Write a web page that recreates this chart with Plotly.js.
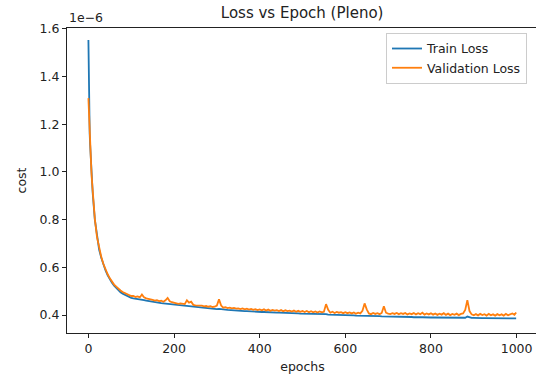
<!DOCTYPE html>
<html>
<head>
<meta charset="utf-8">
<script src="https://cdn.plot.ly/plotly-3.0.1.min.js"></script>
<style>
html,body{margin:0;padding:0;overflow:hidden;background:#fff;}
#chart{width:540px;height:377px;}
</style>
</head>
<body>
<div id="chart"></div>
<script>
// epochs
const epochs = [
  0,1,2,3,4,5,6,7,8,9,10,
  15,20,25,30,35,40,45,50,55,60,65,70,75,80,85,90,95,100,
  105,110,115,120,125,130,135,140,145,150,
  155,160,165,170,175,180,185,190,195,200,
  205,210,215,220,225,230,235,240,245,250,
  255,260,265,270,275,280,285,290,295,300,
  305,310,315,320,325,330,335,340,345,350,
  355,360,365,370,375,380,385,390,395,400,
  405,410,415,420,425,430,435,440,445,450,
  455,460,465,470,475,480,485,490,495,500,
  505,510,515,520,525,530,535,540,545,550,
  555,560,565,570,575,580,585,590,595,600,
  605,610,615,620,625,630,635,640,645,650,
  655,660,665,670,675,680,685,690,695,700,
  705,710,715,720,725,730,735,740,745,750,
  755,760,765,770,775,780,785,790,795,800,
  805,810,815,820,825,830,835,840,845,850,
  855,860,865,870,875,880,885,890,895,900,
  905,910,915,920,925,930,935,940,945,950,
  955,960,965,970,975,980,985,990,995,999
];
// train loss, in units of 1e-6
const trainLoss = [
  1.553,1.26,1.21,1.16,1.115,1.075,1.035,1.0,0.968,0.94,0.912,
  0.80,0.725,0.675,0.64,0.61,0.587,0.567,0.549,0.535,0.523,0.513,0.504,0.496,0.49,0.485,0.48,0.476,0.472,
  0.470,0.469,0.467,0.466,0.464,0.463,0.461,0.459,0.457,0.455,
  0.454,0.453,0.452,0.450,0.449,0.448,0.447,0.446,0.444,0.442,
  0.441,0.440,0.440,0.439,0.437,0.436,0.436,0.435,0.433,0.432,
  0.432,0.431,0.430,0.430,0.429,0.428,0.427,0.427,0.426,0.425,
  0.426,0.424,0.423,0.423,0.422,0.421,0.421,0.420,0.420,0.419,
  0.418,0.418,0.417,0.417,0.416,0.416,0.415,0.415,0.414,0.414,
  0.413,0.413,0.412,0.412,0.412,0.411,0.411,0.410,0.410,0.410,
  0.409,0.409,0.409,0.408,0.408,0.407,0.407,0.407,0.406,0.406,
  0.406,0.405,0.405,0.405,0.404,0.404,0.404,0.403,0.404,0.403,
  0.404,0.402,0.402,0.402,0.401,0.401,0.401,0.400,0.400,0.400,
  0.400,0.399,0.399,0.399,0.398,0.398,0.398,0.398,0.399,0.398,
  0.397,0.397,0.397,0.396,0.396,0.396,0.395,0.395,0.395,0.394,
  0.394,0.394,0.394,0.393,0.393,0.393,0.393,0.392,0.392,0.392,
  0.392,0.391,0.392,0.391,0.391,0.391,0.390,0.391,0.390,0.390,
  0.390,0.390,0.389,0.390,0.389,0.389,0.389,0.389,0.388,0.389,
  0.388,0.389,0.388,0.388,0.388,0.389,0.394,0.390,0.388,0.388,
  0.387,0.388,0.387,0.387,0.387,0.387,0.386,0.387,0.387,0.386,
  0.386,0.386,0.387,0.386,0.386,0.386,0.385,0.386,0.386,0.386
];
// validation loss, in units of 1e-6
const valLoss = [
  1.309,1.25,1.20,1.155,1.112,1.073,1.035,1.0,0.97,0.942,0.915,
  0.803,0.728,0.679,0.644,0.614,0.591,0.571,0.554,0.540,0.528,0.519,0.510,0.503,0.497,0.492,0.488,0.484,0.480,
  0.480,0.476,0.478,0.474,0.486,0.475,0.470,0.469,0.465,0.464,
  0.461,0.463,0.459,0.460,0.456,0.462,0.472,0.458,0.454,0.452,
  0.450,0.447,0.449,0.446,0.446,0.462,0.452,0.456,0.443,0.441,
  0.441,0.438,0.440,0.437,0.438,0.435,0.437,0.434,0.435,0.440,
  0.466,0.440,0.431,0.433,0.429,0.431,0.428,0.430,0.427,0.428,
  0.425,0.428,0.424,0.427,0.423,0.426,0.422,0.425,0.421,0.424,
  0.420,0.424,0.419,0.423,0.418,0.422,0.419,0.421,0.417,0.421,
  0.416,0.420,0.417,0.419,0.415,0.419,0.414,0.418,0.414,0.417,
  0.413,0.417,0.412,0.416,0.412,0.415,0.411,0.415,0.412,0.414,
  0.446,0.422,0.410,0.414,0.409,0.413,0.410,0.412,0.408,0.412,
  0.408,0.411,0.407,0.411,0.406,0.410,0.407,0.418,0.449,0.424,
  0.407,0.404,0.409,0.405,0.408,0.404,0.409,0.437,0.410,0.406,
  0.404,0.408,0.405,0.409,0.404,0.408,0.405,0.409,0.403,0.407,
  0.404,0.409,0.403,0.408,0.404,0.410,0.402,0.407,0.403,0.408,
  0.402,0.407,0.401,0.406,0.402,0.408,0.401,0.406,0.400,0.405,
  0.401,0.406,0.400,0.405,0.407,0.422,0.463,0.417,0.403,0.399,
  0.404,0.399,0.405,0.400,0.404,0.398,0.405,0.399,0.403,0.398,
  0.404,0.399,0.403,0.398,0.405,0.399,0.404,0.407,0.401,0.411
];
const yTickVals = [0.4,0.6,0.8,1.0,1.2,1.4,1.6];
const yTickText = ["0.4","0.6","0.8","1.0","1.2","1.4","1.6"];
const xTickVals = [0,200,400,600,800,1000];
const xTickText = ["0","200","400","600","800","1000"];

const FONT = "DejaVu Sans, sans-serif";
const INK = "#222222";
const FS = 12.5;

const traces = [
  {x: epochs, y: trainLoss, type: "scatter", mode: "lines", name: "Train Loss",
   line: {color: "#1f77b4", width: 1.8}},
  {x: epochs, y: valLoss, type: "scatter", mode: "lines", name: "Validation Loss",
   line: {color: "#ff7f0e", width: 1.8}}
];

const layout = {
  width: 540, height: 377,
  margin: {l: 67, r: 2, t: 28, b: 44},
  paper_bgcolor: "#ffffff", plot_bgcolor: "#ffffff",
  font: {family: FONT, size: FS, color: INK},
  showlegend: true,
  title: {text: "Loss vs Epoch (Pleno)", font: {family: FONT, size: 15, color: INK},
          x: 0.5595, xanchor: "center", y: 0.965, yanchor: "middle"},
  xaxis: {
    range: [-50, 1050], showgrid: false, zeroline: false,
    showline: true, mirror: true, linecolor: "#222", linewidth: 1,
    ticks: "outside", ticklen: 4, tickwidth: 1, tickcolor: "#222",
    tickvals: xTickVals, ticktext: xTickText,
    tickfont: {family: FONT, size: FS, color: INK},
    title: {text: "epochs", font: {family: FONT, size: FS, color: INK}, standoff: 7}
  },
  yaxis: {
    range: [0.325, 1.603], showgrid: false, zeroline: false,
    showline: true, mirror: true, linecolor: "#222", linewidth: 1,
    ticks: "outside", ticklen: 4, tickwidth: 1, tickcolor: "#222",
    tickvals: yTickVals, ticktext: yTickText,
    tickfont: {family: FONT, size: FS, color: INK},
    title: {text: "cost", font: {family: FONT, size: FS, color: INK}, standoff: 10}
  },
  legend: {
    x: 0.9766, xanchor: "right", y: 0.984, yanchor: "top",
    bgcolor: "rgba(255,255,255,0.9)", bordercolor: "#cccccc", borderwidth: 1,
    font: {family: FONT, size: FS, color: INK},
    itemwidth: 30, entrywidth: 150, entrywidthmode: "pixels"
  },
  annotations: [
    {text: "1e\u22126", xref: "paper", yref: "paper", x: 0, y: 1, xanchor: "left", yanchor: "bottom",
     yshift: 1, showarrow: false, font: {family: FONT, size: FS, color: INK}}
  ]
};

Plotly.newPlot("chart", traces, layout, {displayModeBar: false, staticPlot: true});
</script>
</body>
</html>
